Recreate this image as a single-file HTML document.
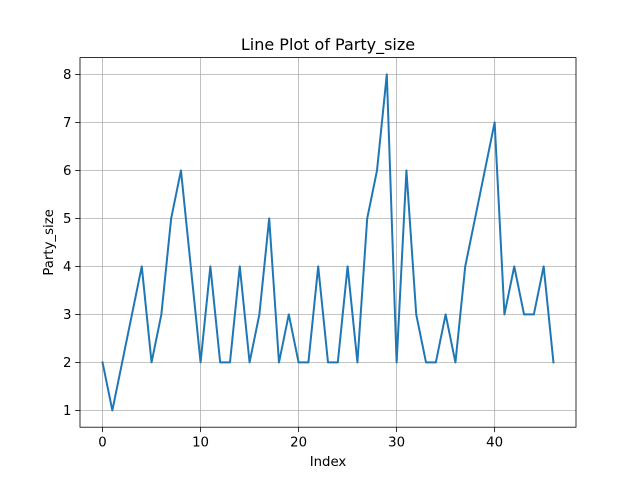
<!DOCTYPE html>
<html><head><meta charset="utf-8"><style>body{margin:0;background:#fff}svg{font-family:"DejaVu Sans","Liberation Sans",sans-serif}</style></head>
<body>
<svg id="c" width="640" height="480"></svg>
<script>
const values=[2,1,2,3,4,2,3,5,6,4,2,4,2,2,4,2,3,5,2,3,2,2,4,2,2,4,2,5,6,8,2,6,3,2,2,3,2,4,5,6,7,3,4,3,3,4,2];
const xTicks=[0,10,20,30,40];
const yTicks=[1,2,3,4,5,6,7,8];
const L=80,R=576,T=57.6,B=427.2;
const xmin=-2.3,xmax=48.3,ymin=0.65,ymax=8.35;
const sx=v=>L+(v-xmin)/(xmax-xmin)*(R-L);
const sy=v=>B-(v-ymin)/(ymax-ymin)*(B-T);
const svg=document.getElementById('c');
const NS='http://www.w3.org/2000/svg';
function mk(t,a,txt){const e=document.createElementNS(NS,t);for(const k in a)e.setAttribute(k,a[k]);if(txt!==undefined)e.textContent=txt;svg.appendChild(e);return e;}
xTicks.forEach(v=>{const x=sx(v);
const g=mk('line',{x1:x,x2:x,y1:T,y2:B,stroke:'#b0b0b0','stroke-width':0.8});


mk('line',{x1:x,x2:x,y1:B,y2:B+4.9,stroke:'#000','stroke-width':0.8});
const t=mk('text',{x:x,y:B+19.5,'text-anchor':'middle','font-size':13.3},String(v));

});
yTicks.forEach(v=>{const y=sy(v);
const g=mk('line',{x1:L,x2:R,y1:y,y2:y,stroke:'#b0b0b0','stroke-width':0.8});


mk('line',{x1:L-4.9,x2:L,y1:y,y2:y,stroke:'#000','stroke-width':0.8});
const t=mk('text',{x:L-8.5,y:y+4.8,'text-anchor':'end','font-size':13.3},String(v));

});
const p=mk('polyline',{points:values.map((v,i)=>sx(i)+','+sy(v)).join(' '),fill:'none',stroke:'#1f77b4','stroke-width':2,'stroke-linejoin':'round','stroke-linecap':'square'});


const f=mk('rect',{x:L,y:T,width:R-L,height:B-T,fill:'none',stroke:'#000','stroke-width':0.8});


const ti=mk('text',{x:(L+R)/2,y:50,'text-anchor':'middle','font-size':16},'Line Plot of Party_size');


const xl=mk('text',{x:(L+R)/2,y:466,'text-anchor':'middle','font-size':13.3},'Index');


const yl=mk('text',{x:0,y:0,'text-anchor':'middle','font-size':13.3,transform:'translate(53,'+((T+B)/2)+') rotate(-90)'},'Party_size');


</script>
</body></html>
